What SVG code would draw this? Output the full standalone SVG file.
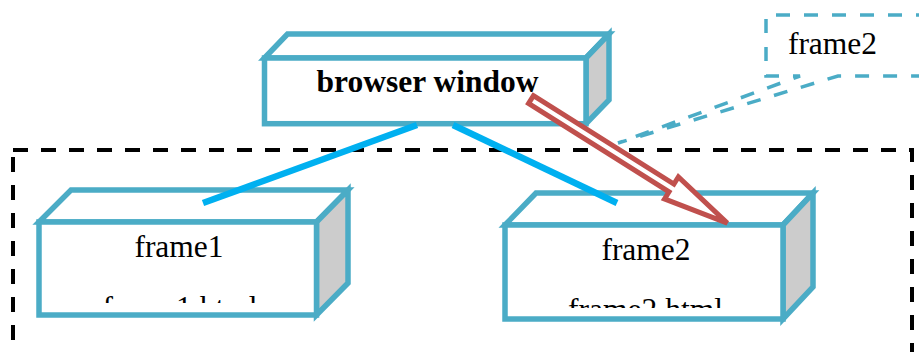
<svg xmlns="http://www.w3.org/2000/svg" width="919" height="352" viewBox="0 0 919 352">
  <style>
    .box{fill:#FFFFFF;stroke:#4BACC6;stroke-width:5.5;stroke-linejoin:miter}
    .side{fill:#CCCCCC;stroke:#4BACC6;stroke-width:5.5;stroke-linejoin:miter}
    .lbl{font-family:"Liberation Serif","Times New Roman",serif;font-size:31.5px;fill:#000000;text-anchor:middle}
    .conn{stroke:#00B0F0;stroke-width:6.5;fill:none}
  </style>
  <defs>
    <clipPath id="clip1"><rect x="42" y="225" width="272" height="78"/></clipPath>
    <clipPath id="clip2"><rect x="508" y="228" width="272" height="80"/></clipPath>
  </defs>
  <rect width="919" height="352" fill="#FFFFFF"/>

  <g id="container">
    <rect x="13" y="150" width="899" height="260" fill="none" stroke="#000000" stroke-width="4" stroke-dasharray="15 13"/>
  </g>

  <g id="browser-window">
    <polygon class="box" points="264.5,58 287.5,34 609,34 586,58"/>
    <polygon class="side" points="586,58 609,34 609,100 586,123.7"/>
    <rect class="box" x="264.5" y="58" width="321.5" height="65.7"/>
    <text class="lbl" x="427.5" y="92" font-weight="bold">browser window</text>
  </g>

  <g id="frame1">
    <polygon class="box" points="39,222 71,190 348,190 316.5,222"/>
    <polygon class="side" points="316.5,222 348,190 348,283 316.5,315"/>
    <rect class="box" x="39" y="222" width="277.5" height="93"/>
    <text class="lbl" x="179" y="257">frame1</text>
    <text class="lbl" x="180" y="318" clip-path="url(#clip1)">frame1.html</text>
  </g>

  <g id="frame2">
    <polygon class="box" points="505,225 536,193 813,193 783,225"/>
    <polygon class="side" points="783,225 813,193 813,287 783,319"/>
    <rect class="box" x="505" y="225" width="278" height="94"/>
    <text class="lbl" x="646" y="260">frame2</text>
    <text class="lbl" x="645.5" y="320" clip-path="url(#clip2)">frame2.html</text>
  </g>

  <g id="connectors">
    <line class="conn" x1="417" y1="125" x2="203" y2="203"/>
    <line class="conn" x1="453" y1="125" x2="617" y2="203"/>
    <polygon points="0,-4.6 166,-4.6 166,-13 232,0 166,13 166,4.6 0,4.6" transform="translate(531,99.5) rotate(32.2)" fill="#FFFFFF" stroke="#C0504D" stroke-width="5"/>
  </g>

  <g id="callout-frame2">
    <path d="M930,15 L766,15 L766,76 L800,76 L618,143 L838,76 L930,76" fill="#FFFFFF" stroke="#4BACC6" stroke-width="3.5" stroke-dasharray="14 14" stroke-linejoin="miter"/>
    <text class="lbl" x="832.5" y="54">frame2</text>
  </g>
</svg>
